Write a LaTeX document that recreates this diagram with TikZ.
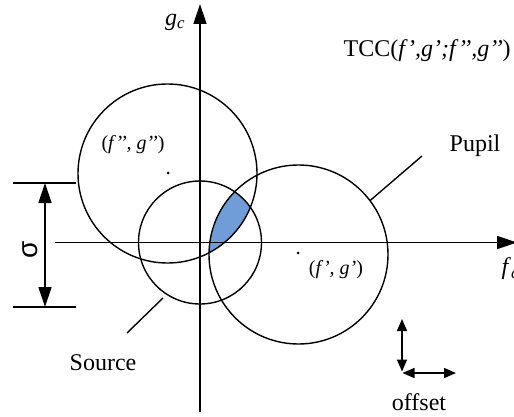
\documentclass[tikz,border=0pt]{standalone}
\usepackage{fontspec}
\setmainfont{Liberation Serif}
\newfontfamily\sansf{Liberation Sans}
\usetikzlibrary{arrows.meta}
\definecolor{shadeblue}{RGB}{112,157,216}
\begin{document}
\begin{tikzpicture}[x=1pt,y=-1pt, line width=1.4pt,
  lbl/.style={font=\fontsize{24}{28}\selectfont, inner sep=0},
  coordlbl/.style={font=\fontsize{20}{24}\selectfont, inner sep=0},
  axisarrow/.style={-{Triangle[length=20pt,width=13pt]}},
  dimarrow/.style={{Triangle[length=20pt,width=13pt]}-{Triangle[length=20pt,width=13pt]}},
  smallarrow/.style={{Triangle[length=12pt,width=10pt]}-{Triangle[length=12pt,width=10pt]}},
  ring/.style={circle, draw, inner sep=0, outer sep=0, line width=1.4pt},
  dot/.style={circle, fill, inner sep=0, minimum size=3pt}]
\useasboundingbox (0,0) rectangle (514,417);
% centres
\coordinate (C1) at (167.5,173.5);
\coordinate (CS) at (200,242.5);
\coordinate (CP) at (298.5,254.5);
% shaded overlap
\begin{scope}
  \clip (C1) circle[radius=89.5pt];
  \clip (CS) circle[radius=61.5pt];
  \fill[shadeblue] (CP) circle[radius=89.5pt];
\end{scope}
% axes
\coordinate (ytop) at (200,4);
\coordinate (ybot) at (200,412);
\coordinate (xl) at (55,242.5);
\coordinate (xr) at (517,242.5);
\draw[axisarrow] (ybot) -- (ytop);
\draw[axisarrow] (xl) -- (xr);
% circles
\node[ring, minimum size=179pt] (c1) at (C1) {};
\node[ring, minimum size=123pt] (src) at (CS) {};
\node[ring, minimum size=179pt] (pup) at (CP) {};
\node[dot] (d1) at (168,173) {};
\node[dot] (d2) at (298,253) {};
% sigma dimension
\coordinate (st1) at (13,183);
\coordinate (st2) at (76,183);
\coordinate (sb1) at (13,307);
\coordinate (sb2) at (76,307);
\coordinate (sa) at (45,183);
\coordinate (sb) at (45,307);
\draw (st1) -- (st2);
\draw (sb1) -- (sb2);
\draw[dimarrow] (sa) -- (sb);
\node[rotate=90, inner sep=0, font=\sansf\fontsize{28}{28}\selectfont] (sig) at (30,250) {σ};
% leaders
\coordinate (pupend) at (422,156);
\draw (pup.37.8) -- (pupend);
\coordinate (srcstart) at (163,298);
\coordinate (srcend) at (127,333);
\draw (srcstart) -- (srcend);
% offset arrows
\coordinate (ou) at (402,319);
\coordinate (od) at (402,371.5);
\coordinate (ol) at (402.5,373);
\coordinate (or) at (456,373);
\draw[smallarrow] (ou) -- (od);
\draw[smallarrow] (ol) -- (or);
% labels
\node[lbl, anchor=center] (gc) at (175,22) {\textit{g}\textsubscript{\textit{c}}};
\node[lbl, anchor=west] (fc) at (501,269) {\textit{f}\textsubscript{\textit{c}}};
\node[lbl, anchor=base west] (tcc) at (343,57) {TCC(\textit{f’,g’;f’’,g’’})};
\node[lbl] (pupil) at (475,146) {Pupil};
\node[lbl] (source) at (103,363) {Source};
\node[lbl, anchor=base] (offset) at (419,410) {offset};
\node[coordlbl] (l1) at (133,145) {(\textit{f’’, g’’})};
\node[coordlbl] (l2) at (336,270) {(\textit{f’, g’})};
\end{tikzpicture}
\end{document}
